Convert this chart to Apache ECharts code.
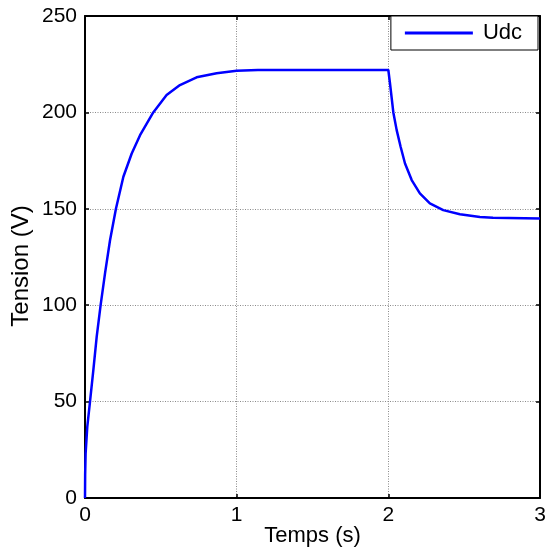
<!DOCTYPE html>
<html>
<head>
<meta charset="utf-8">
<script src="https://cdn.jsdelivr.net/npm/echarts@6/dist/echarts.min.js"></script>
<style>html,body{margin:0;padding:0;background:#fff;}#c{width:547px;height:550px;}</style>
</head>
<body>
<div id="c"></div>
<script>
var seriesName = 'Udc';
var xTitle = 'Temps (s)';
var yTitle = 'Tension (V)';
var timeValues = [0, 0.001, 0.004, 0.015, 0.033, 0.055, 0.077, 0.103, 0.132, 0.165, 0.204, 0.253, 0.308, 0.363, 0.45, 0.538, 0.626, 0.736, 0.868, 1.0, 1.14,
                  2.0, 2.011, 2.033, 2.055, 2.081, 2.11, 2.154, 2.208, 2.274, 2.362, 2.472, 2.604, 2.69, 3.0];
var udcValues  = [0, 12, 23, 36.9, 50, 66.3, 83.6, 100, 116.5, 133.7, 150, 166.6, 178.7, 188.2, 200, 209, 214.2, 218.2, 220.3, 221.6, 222,
                  222, 215, 200, 190.8, 182.2, 173.5, 164.9, 158, 152.8, 149.3, 147.2, 145.8, 145.3, 145];

var data = timeValues.map(function (t, i) { return [t, udcValues[i]]; });
var font = 'Arial, "Liberation Sans", sans-serif';
var axisLine = { show: true, onZero: false, lineStyle: { color: '#000', width: 2 } };
var tick = { show: true, inside: true, length: 4, lineStyle: { color: '#000', width: 1.5 } };
var split = { show: true, lineStyle: { color: '#8a8a8a', width: 1, type: [1, 1.5] } };

var chart = echarts.init(document.getElementById('c'), null, { renderer: 'canvas' });
chart.setOption({
  animation: false,
  backgroundColor: '#fff',
  grid: { left: 85, right: 7, top: 16, bottom: 52, containLabel: false, outerBoundsMode: 'none' },
  legend: {
    show: true,
    right: 9, top: 16,
    orient: 'vertical',
    backgroundColor: '#fff',
    borderColor: '#000', borderWidth: 1, borderRadius: 0,
    padding: [6, 16, 6, 14],
    icon: 'rect',
    itemWidth: 68, itemHeight: 3, itemGap: 0,
    textStyle: { fontFamily: font, fontSize: 22, color: '#000', padding: [0, 0, 0, 5] },
    data: [seriesName]
  },
  xAxis: [{
    type: 'value', min: 0, max: 3, interval: 1, position: 'bottom',
    name: xTitle, nameLocation: 'middle', nameGap: 27, nameMoveOverlap: false,
    nameTextStyle: { fontFamily: font, fontSize: 22, color: '#000' },
    axisLine: axisLine, axisTick: tick, splitLine: split,
    axisLabel: { fontFamily: font, fontSize: 21, color: '#000', margin: 7 }
  }, {
    type: 'value', min: 0, max: 3, interval: 1, position: 'top',
    axisLine: axisLine, axisTick: tick, splitLine: { show: false },
    axisLabel: { show: false }
  }],
  yAxis: [{
    type: 'value', min: 0, max: 250, interval: 50, position: 'left',
    name: yTitle, nameLocation: 'middle', nameGap: 52, nameMoveOverlap: false,
    nameTextStyle: { fontFamily: font, fontSize: 24, color: '#000', padding: [0, 18, 0, 0] },
    axisLine: axisLine, axisTick: tick, splitLine: split,
    axisLabel: { fontFamily: font, fontSize: 21, color: '#000', margin: 8 }
  }, {
    type: 'value', min: 0, max: 250, interval: 50, position: 'right',
    axisLine: axisLine, axisTick: tick, splitLine: { show: false },
    axisLabel: { show: false }
  }],
  series: [{
    name: seriesName,
    type: 'line',
    data: data,
    showSymbol: false,
    symbol: 'none',
    smooth: false,
    lineStyle: { color: '#0000ff', width: 2.5 },
    itemStyle: { color: '#0000ff' }
  }]
});
</script>
</body>
</html>
